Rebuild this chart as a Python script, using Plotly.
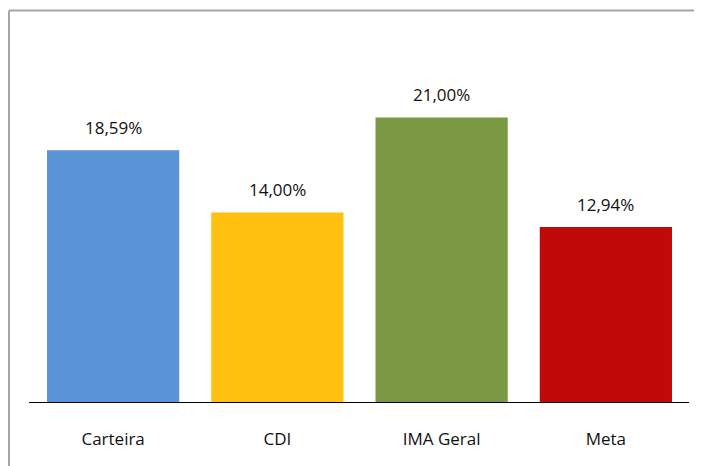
import plotly.graph_objects as go

categories = ["Carteira", "CDI", "IMA Geral", "Meta"]
values = [18.59, 14.00, 21.00, 12.94]
labels = ["18,59%", "14,00%", "21,00%", "12,94%"]
colors = ["#5A93D6", "#FFC010", "#7B9943", "#C00A0A"]

W, H = 694, 458
ml, mr, mt, mb = 23, 14, 55, 63
pw = W - ml - mr
ph = H - mt - mb
ymax = 25.0

fig = go.Figure(go.Bar(
    x=categories, y=values, marker=dict(color=colors, line=dict(width=0)),
    width=0.805, hoverinfo="skip",
))

for c, v, t in zip(categories, values, labels):
    fig.add_annotation(x=c, y=v, text=t, showarrow=False, yanchor="middle",
                       yshift=23, font=dict(family="Open Sans", size=17, color="#111111"))

# outer frame (top and left only visible)
bx = (1 - ml) / pw
by = 1 + (mt - 2.5) / ph
fig.add_shape(type="line", xref="paper", yref="paper", x0=bx, x1=bx, y0=-0.5, y1=by,
              line=dict(color="#A6A6A6", width=2))
fig.add_shape(type="line", xref="paper", yref="paper", x0=bx, x1=1.5, y0=by, y1=by,
              line=dict(color="#A6A6A6", width=2))
# baseline
fig.add_shape(type="line", xref="paper", yref="y", x0=-2 / pw, x1=1.0 + 1 / pw, y0=0, y1=0,
              line=dict(color="#000000", width=2))

fig.update_layout(
    width=W, height=H, margin=dict(l=ml, r=mr, t=mt, b=mb),
    paper_bgcolor="white", plot_bgcolor="white", showlegend=False,
    font=dict(family="Open Sans", size=17, color="#111111"),
    xaxis=dict(showgrid=False, zeroline=False, showline=False, ticks="",
               ticklabelstandoff=24, tickfont=dict(size=17)),
    yaxis=dict(range=[0, ymax], showgrid=False, zeroline=False, showline=False,
               showticklabels=False, ticks=""),
)

fig.write_html("out.html")
